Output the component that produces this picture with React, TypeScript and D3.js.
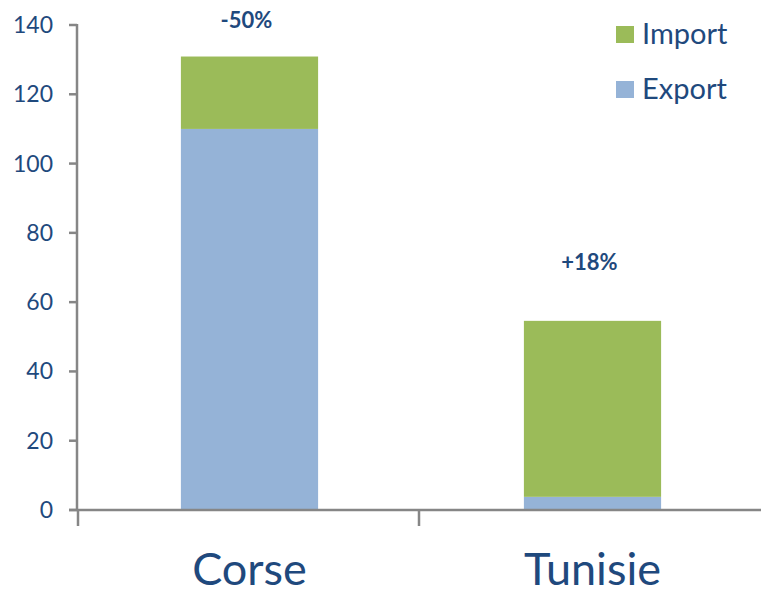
import React from "react";
import * as d3 from "d3";

const categories = ["Corse", "Tunisie"];
const exportValues = [110, 3.8];
const importValues = [20.9, 50.8];
const changeLabels = ["-50%", "+18%"];
const yTicks = [0, 20, 40, 60, 80, 100, 120, 140];
const seriesNames = ["Import", "Export"];

const GREEN = "#9BBB59";
const BLUE = "#95B3D7";
const TEXT = "#1F497D";
const AXIS = "#868686";
const FONT = "Lato, 'Open Sans', sans-serif";

export default function App() {
  const W = 761, H = 598;
  const x = d3.scaleBand<string>().domain(categories).range([78, 764]).paddingInner(0.6).paddingOuter(0.3);
  const xOuter = d3.scaleBand<string>().domain(categories).range([78, 760]);
  const y = d3.scaleLinear().domain([0, 140]).range([510, 25]);

  const stackData = categories.map((c, i) => ({ cat: c, Export: exportValues[i], Import: importValues[i] }));
  const stack = d3.stack<any>().keys(["Export", "Import"])(stackData);
  const colors: Record<string, string> = { Export: BLUE, Import: GREEN };
  const labelY = [20, 262];

  return (
    <svg width={W} height={H} style={{ position: "absolute", left: 0, top: 0, background: "#fff" }}>
      {stack.map((s) =>
        s.map((d, i) => (
          <rect
            key={s.key + i}
            x={x(categories[i])}
            width={x.bandwidth()}
            y={y(d[1])}
            height={y(d[0]) - y(d[1])}
            fill={colors[s.key]}
          />
        ))
      )}
      {/* y axis */}
      <line x1={77} x2={77} y1={24} y2={511} stroke={AXIS} strokeWidth={2.5} />
      {yTicks.map((t) => (
        <g key={t}>
          <line x1={69} x2={77} y1={y(t)} y2={y(t)} stroke={AXIS} strokeWidth={2.5} />
          <text x={53} y={y(t)} dy="0.35em" textAnchor="end" fontSize={23} fill={TEXT} fontFamily={FONT}>
            {t}
          </text>
        </g>
      ))}
      {/* x axis */}
      <line x1={69} x2={761} y1={510} y2={510} stroke={AXIS} strokeWidth={2.5} />
      {categories.map((c) => (
        <line key={c} x1={xOuter(c)} x2={xOuter(c)} y1={510} y2={526} stroke={AXIS} strokeWidth={2.5} />
      ))}
      {categories.map((c) => (
        <text key={c} x={x(c)! + x.bandwidth() / 2} y={585} textAnchor="middle" fontSize={45} fill={TEXT} fontFamily={FONT}>
          {c}
        </text>
      ))}
      {changeLabels.map((l, i) => (
        <text key={l} x={x(categories[i])! + x.bandwidth() / 2 - 3} y={labelY[i]} dy="0.35em" textAnchor="middle" fontSize={22} fontWeight="bold" fill={TEXT} fontFamily={FONT}>
          {l}
        </text>
      ))}
      {seriesNames.map((n, i) => (
        <g key={n}>
          <rect x={616} y={26 + i * 55} width={18} height={17} fill={n === "Import" ? GREEN : BLUE} />
          <text x={642} y={44 + i * 55} fontSize={29} fill={TEXT} fontFamily={FONT}>
            {n}
          </text>
        </g>
      ))}
    </svg>
  );
}
